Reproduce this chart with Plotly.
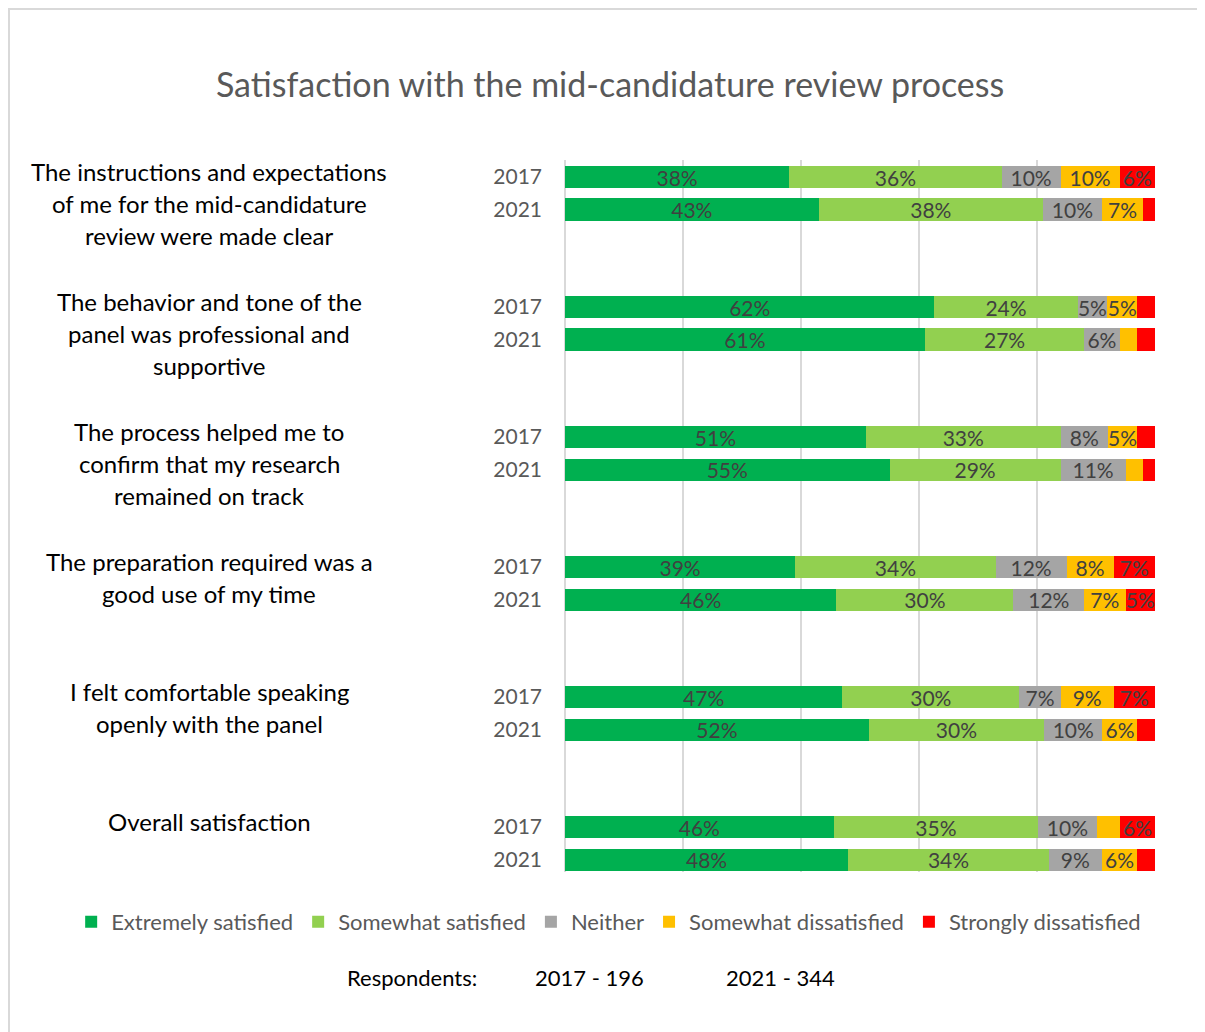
import plotly.graph_objects as go

# Questions (left-hand labels), one entry per line of text
questions = [
    ["The instructions and expectations", "of me for the mid-candidature", "review were made clear"],
    ["The behavior and tone of the", "panel was professional and", "supportive"],
    ["The process helped me to", "confirm that my research", "remained on track"],
    ["The preparation required was a", "good use of my time"],
    ["I felt comfortable speaking", "openly with the panel"],
    ["Overall satisfaction"],
]
years = ["2017", "2021"]

# one value per bar: q1-2017, q1-2021, q2-2017, ... (percent)
extremely = [38, 43, 62, 61, 51, 55, 39, 46, 47, 52, 46, 48]
somewhat = [36, 38, 24, 27, 33, 29, 34, 30, 30, 30, 35, 34]
neither = [10, 10, 5, 6, 8, 11, 12, 12, 7, 10, 10, 9]
somewhat_dis = [10, 7, 5, 3, 5, 3, 8, 7, 9, 6, 4, 6]
strongly_dis = [6, 2, 3, 3, 3, 2, 7, 5, 7, 3, 6, 3]

series = [
    ("Extremely satisfied", extremely, "#00B050"),
    ("Somewhat satisfied", somewhat, "#92D050"),
    ("Neither", neither, "#A5A5A5"),
    ("Somewhat dissatisfied", somewhat_dis, "#FFC000"),
    ("Strongly dissatisfied", strongly_dis, "#FF0000"),
]

respondents = ["Respondents:", "2017 - 196", "2021 - 344"]

FONT = "Lato"
GREY = "#595959"

# bar positions: 4 slots per question, 2 bars + 2 blank slots
ypos = [4 * g + k for g in range(len(questions)) for k in range(len(years))]
ylabels = [y for _ in questions for y in years]

fig = go.Figure()
for name, vals, col in series:
    fig.add_trace(go.Bar(
        x=vals, y=ypos, orientation="h", name=name,
        marker=dict(color=col, line=dict(width=0)),
        width=0.68,
        text=[f"{v}%" if v >= 5 else "" for v in vals],
        textposition="inside", insidetextanchor="middle",
        constraintext="none",
        textfont=dict(family=FONT, size=21, color="#404040"),
        hoverinfo="skip",
    ))

# question labels on the left
for g, lines in enumerate(questions):
    for i, line in enumerate(lines):
        fig.add_annotation(
            text=line, xref="paper", yref="y", x=-0.603, y=4 * g,
            xanchor="center", yanchor="middle", showarrow=False,
            yshift=6 - 32 * i,
            font=dict(family=FONT, size=24, color="#000000"),
        )

# respondents line
for txt, xp in zip(respondents, [-0.259, 0.041, 0.366]):
    fig.add_annotation(
        text=txt, xref="paper", yref="paper", x=xp, y=-0.1475,
        xanchor="center", yanchor="middle", showarrow=False,
        font=dict(family=FONT, size=22, color="#000000"),
    )

# chart border
fig.add_shape(type="rect", xref="paper", yref="paper",
              x0=-0.9424, x1=1.2, y0=-0.3, y1=1.2121,
              line=dict(color="#D9D9D9", width=2), layer="below")

fig.update_layout(
    width=1197, height=1024,
    margin=dict(l=557, r=50, t=152, b=160, autoexpand=False),
    paper_bgcolor="white", plot_bgcolor="white",
    barmode="stack", barnorm="percent",
    title=dict(text="Satisfaction with the mid-candidature review process",
               x=0.503, xanchor="center", y=1 - 77 / 1024, yanchor="middle",
               font=dict(family=FONT, size=34, color=GREY)),
    xaxis=dict(range=[0, 100], dtick=20, showticklabels=False,
               showgrid=True, gridcolor="#D9D9D9", gridwidth=2,
               zeroline=True, zerolinecolor="#D9D9D9", zerolinewidth=2,
               automargin=False, fixedrange=True),
    yaxis=dict(range=[21.38, -0.523], tickmode="array", tickvals=ypos, ticktext=ylabels,
               tickfont=dict(family=FONT, size=21, color=GREY),
               showgrid=False, zeroline=False, ticks="",
               ticklabelstandoff=22,
               automargin=False, fixedrange=True),
    legend=dict(orientation="h", x=-0.837, xanchor="left",
                y=-0.0702, yanchor="middle", traceorder="normal",
                font=dict(family=FONT, size=22, color=GREY)),
    showlegend=True,
)

fig.write_html("out.html")
